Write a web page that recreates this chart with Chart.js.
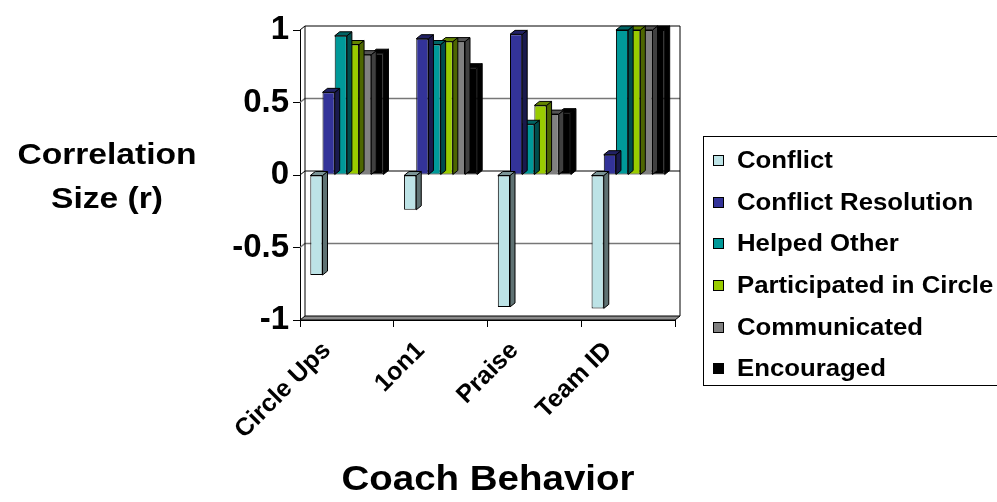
<!DOCTYPE html>
<html>
<head>
<meta charset="utf-8">
<script src="https://cdn.jsdelivr.net/npm/chart.js@4.4.1/dist/chart.umd.min.js"></script>
<style>
body { margin: 0; background: #fff; }
#wrap { position: relative; width: 997px; height: 502px; overflow: hidden; font-family: "Liberation Sans", Arial, sans-serif; font-weight: bold; color: #000; }
#chart { position: absolute; left: 0; top: 0; }
#ytitle { position: absolute; left: 7px; top: 132px; width: 200px; text-align: center; font-size: 30px; line-height: 44px; transform: scaleX(1.12); }
#xtitle { position: absolute; left: 288px; top: 458px; width: 400px; text-align: center; font-size: 35px; line-height: 40px; transform: scaleX(1.1); }
#legend { position: absolute; left: 703px; top: 136px; width: 320px; height: 250px; border: 1px solid #000; box-sizing: border-box; }
.item { position: absolute; left: 9px; height: 28px; display: flex; align-items: center; font-size: 23px; white-space: nowrap; }
.item i { display: inline-block; width: 9px; height: 9px; border: 1px solid #000; margin-right: 13px; }
.item span { display: inline-block; transform: scaleX(1.12); transform-origin: left center; }
</style>
</head>
<body>
<div id="wrap">
    <canvas id="chart" width="997" height="502"></canvas>
    <div id="ytitle">Correlation<br>Size (r)</div>
    <div id="xtitle">Coach Behavior</div>
    <div id="legend"></div>
</div>
<script>
const categories = ['Circle Ups', '1on1', 'Praise', 'Team ID'];
const seriesNames = ['Conflict', 'Conflict Resolution', 'Helped Other', 'Participated in Circle', 'Communicated', 'Encouraged'];
const conflict = [-0.69, -0.24, -0.91, -0.92];
const conflictResolution = [0.57, 0.94, 0.97, 0.14];
const helpedOther = [0.96, 0.90, 0.35, 1.0];
const participated = [0.90, 0.92, 0.48, 1.0];
const communicated = [0.83, 0.92, 0.42, 1.0];
const encouraged = [0.84, 0.74, 0.43, 1.0];
const yTicks = [-1, -0.5, 0, 0.5, 1];

const seriesValues = [conflict, conflictResolution, helpedOther, participated, communicated, encouraged];
const seriesColors = ['#BDE3E6', '#333399', '#009999', '#99CC00', '#808080', '#000000'];

// 3d depth offsets
const DX = 5, DY = 4;

function darken(hex, f) {
    const n = parseInt(hex.slice(1), 16);
    const r = Math.round(((n >> 16) & 255) * f);
    const g = Math.round(((n >> 8) & 255) * f);
    const b = Math.round((n & 255) * f);
    return `rgb(${r},${g},${b})`;
}

function poly(ctx, pts, fill) {
    ctx.beginPath();
    ctx.moveTo(pts[0][0], pts[0][1]);
    for (let i = 1; i < pts.length; i++) ctx.lineTo(pts[i][0], pts[i][1]);
    ctx.closePath();
    if (fill) { ctx.fillStyle = fill; ctx.fill(); }
    ctx.stroke();
}

const wallPlugin = {
    id: 'wall3d',
    beforeDatasetsDraw(chart) {
        const ctx = chart.ctx;
        const a = chart.chartArea;
        const y = chart.scales.y;
        ctx.save();
        // gridlines on back + side wall
        yTicks.forEach(v => {
            if (v === 1 || v === -1) return;
            const py = y.getPixelForValue(v);
            ctx.strokeStyle = v === 0 ? '#000' : '#777';
            ctx.lineWidth = v === 0 ? 1 : 1.5;
            ctx.beginPath();
            ctx.moveTo(a.left, py);
            ctx.lineTo(a.left + DX, py - DY);
            ctx.lineTo(a.right + DX, py - DY);
            ctx.stroke();
        });
        ctx.lineWidth = 1;
        ctx.strokeStyle = '#000';
        // back wall frame
        ctx.beginPath();
        ctx.moveTo(a.left, a.top);
        ctx.lineTo(a.left + DX, a.top - DY);
        ctx.lineTo(a.right + DX, a.top - DY);
        ctx.lineTo(a.right + DX, a.bottom - DY);
        ctx.moveTo(a.left + DX, a.top - DY);
        ctx.lineTo(a.left + DX, a.bottom - DY);
        ctx.stroke();
        // floor
        poly(ctx, [[a.left, a.bottom], [a.left + DX, a.bottom - DY], [a.right + DX, a.bottom - DY], [a.right, a.bottom]], '#8c8c8c');
        ctx.restore();
    },
    beforeDatasetDraw(chart, args) {
        const ctx = chart.ctx;
        const color = seriesColors[args.index];
        ctx.save();
        ctx.lineWidth = 1;
        ctx.strokeStyle = '#000';
        args.meta.data.forEach(bar => {
            const p = bar.getProps(['x', 'y', 'base', 'width'], true);
            const l = p.x - p.width / 2, r = p.x + p.width / 2;
            const top = Math.min(p.y, p.base), bot = Math.max(p.y, p.base);
            // right face
            poly(ctx, [[r, top], [r + DX, top - DY], [r + DX, bot - DY], [r, bot]], darken(color, 0.5));
            // top face
            poly(ctx, [[l, top], [l + DX, top - DY], [r + DX, top - DY], [r, top]], darken(color, 0.65));
        });
        ctx.restore();
    }
};

const datasets = seriesNames.map((name, i) => ({
    label: name,
    data: seriesValues[i],
    backgroundColor: seriesColors[i],
    borderColor: '#000',
    borderWidth: 1,
    borderSkipped: false,
    categoryPercentage: 0.78,
    barPercentage: 1.0
}));

new Chart(document.getElementById('chart'), {
    type: 'bar',
    data: { labels: categories, datasets: datasets },
    options: {
        responsive: false,
        animation: false,
        layout: { padding: { top: 30, right: 322, bottom: 0, left: 0 } },
        plugins: {
            legend: { display: false },
            tooltip: { enabled: false }
        },
        scales: {
            x: {
                grid: { offset: true, drawOnChartArea: false, tickLength: 7, color: '#000' },
                border: { color: '#000' },
                ticks: {
                    minRotation: 45,
                    maxRotation: 45,
                    color: '#000',
                    padding: 9,
                    labelOffset: -20,
                    font: { family: '"Liberation Sans", Arial, sans-serif', size: 25, weight: 'bold' }
                },
                afterFit(s) { s.height = 182; }
            },
            y: {
                min: -1,
                max: 1,
                afterBuildTicks(s) { s.ticks = yTicks.map(v => ({ value: v })); },
                grid: { drawOnChartArea: false, tickLength: 7, color: '#000' },
                border: { color: '#000' },
                ticks: {
                    color: '#000',
                    padding: 4,
                    callback: v => String(v),
                    font: { family: '"Liberation Sans", Arial, sans-serif', size: 33, weight: 'bold' }
                },
                afterFit(s) { s.width = 300; }
            }
        }
    },
    plugins: [wallPlugin]
});

const legend = document.getElementById('legend');
const itemCenters = [23, 65, 106, 148, 190, 231];
seriesNames.forEach((name, i) => {
    const div = document.createElement('div');
    div.className = 'item';
    div.style.top = (itemCenters[i] - 14) + 'px';
    div.innerHTML = `<i style="background:${seriesColors[i]}"></i><span>${name}</span>`;
    legend.appendChild(div);
});
</script>
</body>
</html>
